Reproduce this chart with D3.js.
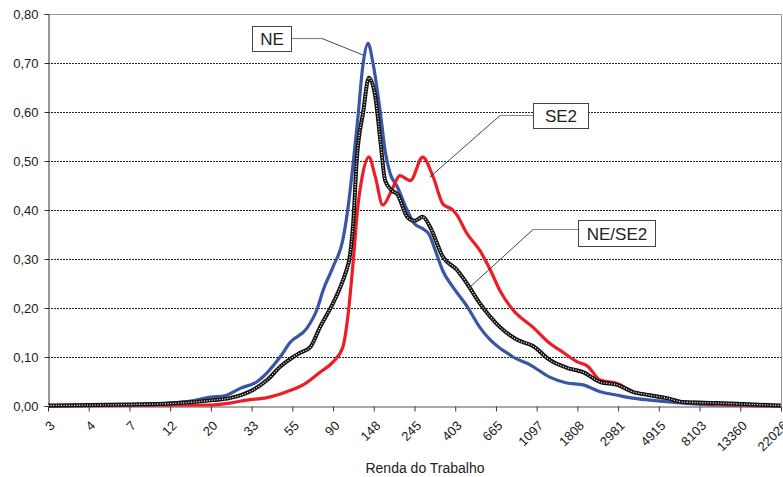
<!DOCTYPE html>
<html>
<head>
  <meta charset="utf-8" />
  <script src="https://d3js.org/d3.v7.min.js"></script>
  <style>
    body {
      margin: 0;
      font-family: "Liberation Sans", Arial, sans-serif;
    }
    svg {
      display: block;
    }
  </style>
</head>
<body>
  <script>
    // ln(renda) positions of the ticks and their labels (e^x, rounded)
    var tickPos = [1, 1.5, 2, 2.5, 3, 3.5, 4, 4.5, 5, 5.5, 6, 6.5, 7, 7.5, 8, 8.5, 9, 9.5, 10];
    var tickLabels = ["3", "4", "7", "12", "20", "33", "55", "90", "148", "245", "403", "665",
      "1097", "1808", "2981", "4915", "8103", "13360", "22026"];
    var yTicks = [0, 0.1, 0.2, 0.3, 0.4, 0.5, 0.6, 0.7, 0.8];

    // [ln renda, densidade]
    var ne = [
      [1.0, 0.000], [2.0, 0.002], [2.5, 0.006], [2.75, 0.010], [3.0, 0.018], [3.17, 0.021],
      [3.36, 0.036], [3.57, 0.050], [3.85, 0.100], [3.97, 0.129], [4.18, 0.159], [4.30, 0.196],
      [4.38, 0.237], [4.50, 0.284], [4.62, 0.339], [4.68, 0.400], [4.75, 0.500], [4.80, 0.580],
      [4.87, 0.700], [4.93, 0.740], [4.99, 0.700], [5.08, 0.600], [5.14, 0.520], [5.20, 0.475],
      [5.29, 0.447], [5.41, 0.400], [5.50, 0.372], [5.60, 0.362], [5.68, 0.350], [5.75, 0.320],
      [5.85, 0.275], [5.97, 0.243], [6.14, 0.205], [6.30, 0.161], [6.43, 0.135], [6.55, 0.118],
      [6.64, 0.108], [6.71, 0.100], [6.92, 0.084], [7.16, 0.059], [7.37, 0.047], [7.57, 0.043],
      [7.78, 0.029], [7.99, 0.022], [8.18, 0.016], [8.39, 0.012], [8.80, 0.006], [9.21, 0.002],
      [10.0, 0.000]
    ];
    var se2 = [
      [1.0, 0.000], [3.0, 0.002], [3.23, 0.006], [3.44, 0.012], [3.69, 0.017], [3.93, 0.029],
      [4.13, 0.043], [4.34, 0.069], [4.50, 0.090], [4.62, 0.120], [4.68, 0.180], [4.75, 0.300],
      [4.80, 0.400], [4.86, 0.470], [4.94, 0.508], [5.02, 0.467], [5.11, 0.410], [5.22, 0.440],
      [5.32, 0.470], [5.45, 0.460], [5.60, 0.508], [5.73, 0.467], [5.85, 0.412], [5.97, 0.400],
      [6.02, 0.390], [6.14, 0.353], [6.30, 0.318], [6.43, 0.278], [6.55, 0.235], [6.71, 0.196],
      [6.96, 0.160], [7.16, 0.128], [7.32, 0.110], [7.50, 0.090], [7.62, 0.082], [7.78, 0.053],
      [7.99, 0.046], [8.18, 0.029], [8.39, 0.022], [8.60, 0.016], [8.80, 0.008], [9.21, 0.004],
      [10.0, 0.000]
    ];
    var neSe2 = [
      [1.0, 0.001], [2.0, 0.003], [2.5, 0.005], [3.03, 0.012], [3.23, 0.016], [3.52, 0.033],
      [3.69, 0.053], [3.85, 0.080], [4.01, 0.100], [4.09, 0.108], [4.22, 0.120], [4.34, 0.161],
      [4.50, 0.210], [4.59, 0.243], [4.65, 0.270], [4.71, 0.310], [4.75, 0.380], [4.79, 0.500],
      [4.87, 0.600], [4.94, 0.670], [5.02, 0.630], [5.08, 0.543], [5.14, 0.460], [5.22, 0.440],
      [5.29, 0.432], [5.41, 0.386], [5.50, 0.378], [5.60, 0.386], [5.69, 0.366], [5.85, 0.304],
      [6.02, 0.278], [6.14, 0.251], [6.30, 0.210], [6.55, 0.161], [6.76, 0.135], [6.96, 0.122],
      [7.16, 0.094], [7.37, 0.078], [7.57, 0.069], [7.78, 0.049], [7.99, 0.043], [8.18, 0.029],
      [8.39, 0.022], [8.60, 0.016], [8.80, 0.008], [9.21, 0.006], [9.83, 0.002], [10.0, 0.001]
    ];

    var width = 783, height = 477;
    var plotLeft = 48, plotRight = 781, plotTop = 14, plotBottom = 406;

    var x = d3.scaleLinear().domain([1, 10]).range([plotLeft, plotRight]);
    var y = d3.scaleLinear().domain([0, 0.8]).range([plotBottom, plotTop]);
    var fmt = function(d) { return d3.format(".2f")(d).replace(".", ","); };

    var svg = d3.select("body")
      .append("svg")
      .attr("width", width)
      .attr("height", height);

    // grid lines
    svg.append("g")
      .selectAll("line")
      .data(yTicks.filter(function(d) { return d > 0 && d < 0.8; }))
      .enter()
      .append("line")
      .attr("x1", plotLeft)
      .attr("x2", plotRight)
      .attr("y1", function(d) { return Math.round(y(d)) + 0.5; })
      .attr("y2", function(d) { return Math.round(y(d)) + 0.5; })
      .attr("stroke", "#222")
      .attr("stroke-width", 1)
      .attr("stroke-dasharray", "2,1");

    // top / right frame
    svg.append("path")
      .attr("d", `M${plotLeft} ${plotTop + 0.5} H${plotRight + 0.5} V${plotBottom}`)
      .attr("fill", "none")
      .attr("stroke", "#999");

    // y axis
    var yAxis = svg.append("g")
      .attr("transform", `translate(${plotLeft + 0.5} 0)`)
      .call(d3.axisLeft(y).tickValues(yTicks).tickFormat(fmt).tickSize(4).tickPadding(6));
    yAxis.select(".domain").attr("stroke", "#333");
    yAxis.selectAll(".tick line").attr("stroke", "#333");
    yAxis.selectAll("text")
      .style("font-size", "13px")
      .style("font-family", "Liberation Sans, Arial, sans-serif")
      .attr("fill", "#1a1a1a");

    // x axis
    var xAxis = svg.append("g")
      .attr("transform", `translate(0 ${plotBottom + 0.5})`)
      .call(d3.axisBottom(x).tickValues(tickPos).tickFormat(function(d, i) {
        return tickLabels[i];
      }).tickSize(5).tickSizeOuter(0));
    xAxis.select(".domain").attr("stroke", "#555");
    xAxis.selectAll(".tick line").attr("stroke", "#333");
    xAxis.selectAll("text")
      .style("font-size", "13px")
      .style("font-family", "Liberation Sans, Arial, sans-serif")
      .attr("fill", "#1a1a1a")
      .attr("text-anchor", "end")
      .attr("y", 0)
      .attr("dy", 0)
      .attr("transform", "translate(7 20) rotate(-45)");

    svg.append("text")
      .attr("x", 425)
      .attr("y", 473)
      .attr("text-anchor", "middle")
      .style("font-size", "14px")
      .attr("fill", "#222")
      .text("Renda do Trabalho");

    var line = d3.line()
      .x(function(d) { return x(d[0]); })
      .y(function(d) { return y(d[1]); })
      .curve(d3.curveMonotoneX);

    svg.append("path")
      .datum(ne)
      .attr("d", line)
      .attr("fill", "none")
      .attr("stroke", "#3a55a4")
      .attr("stroke-width", 3.2)
      .attr("stroke-linejoin", "round");

    svg.append("path")
      .datum(se2)
      .attr("d", line)
      .attr("fill", "none")
      .attr("stroke", "#ee1d25")
      .attr("stroke-width", 3.2)
      .attr("stroke-linejoin", "round");

    svg.append("path")
      .datum(neSe2)
      .attr("d", line)
      .attr("fill", "none")
      .attr("stroke", "#111")
      .attr("stroke-width", 4)
      .attr("stroke-linejoin", "round");

    svg.append("path")
      .datum(neSe2)
      .attr("d", line)
      .attr("fill", "none")
      .attr("stroke", "#fff")
      .attr("stroke-width", 1.3)
      .attr("stroke-dasharray", "1,1.6");

    // callouts
    var callouts = [
      { text: "NE", box: [252, 26, 39, 25], pts: [[291, 38], [322, 38], [363, 55]] },
      { text: "SE2", box: [533, 103, 55, 25], pts: [[533, 115], [500, 115], [430, 177]] },
      { text: "NE/SE2", box: [578, 220, 77, 26], pts: [[578, 229], [533, 229], [470, 287]] }
    ];
    callouts.forEach(function(c) {
      svg.append("path")
        .attr("d", `M${c.pts[0][0]} ${c.pts[0][1] + 0.5} L${c.pts[1][0]} ${c.pts[1][1] + 0.5}`)
        .attr("stroke", "#888")
        .attr("stroke-width", 1.2)
        .attr("fill", "none");
      svg.append("path")
        .attr("d", `M${c.pts[1][0]} ${c.pts[1][1] + 0.5} L${c.pts[2][0]} ${c.pts[2][1]}`)
        .attr("stroke", "#333")
        .attr("stroke-width", 0.9)
        .attr("fill", "none");
      svg.append("rect")
        .attr("x", c.box[0] + 0.5)
        .attr("y", c.box[1] + 0.5)
        .attr("width", c.box[2])
        .attr("height", c.box[3])
        .attr("fill", "#fff")
        .attr("stroke", "#444")
        .attr("stroke-width", 1);
      svg.append("text")
        .attr("x", c.box[0] + c.box[2] / 2 + 0.5)
        .attr("y", c.box[1] + c.box[3] / 2 + 6.5)
        .attr("text-anchor", "middle")
        .style("font-size", "17px")
        .attr("fill", "#222")
        .text(c.text);
    });
  </script>
</body>
</html>
